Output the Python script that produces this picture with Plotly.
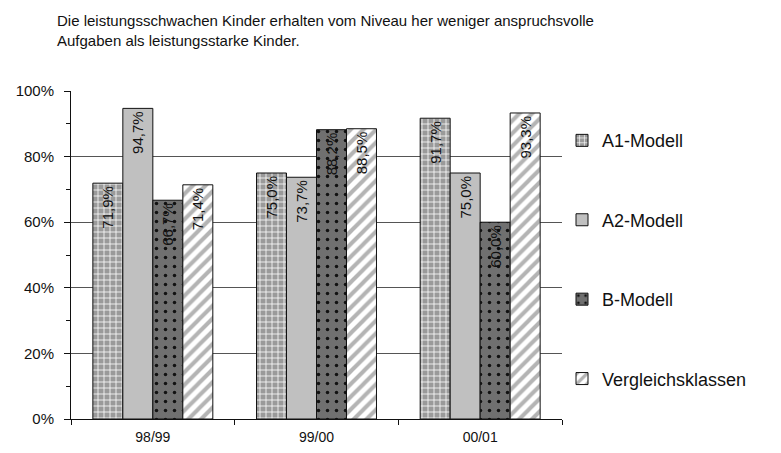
import plotly.graph_objects as go

categories = ["98/99", "99/00", "00/01"]
series_names = ["A1-Modell", "A2-Modell", "B-Modell", "Vergleichsklassen"]
a1_values = [71.9, 75.0, 91.7]
a2_values = [94.7, 73.7, 75.0]
b_values = [66.7, 88.2, 60.0]
vk_values = [71.4, 88.5, 93.3]
y_tick_values = [0, 20, 40, 60, 80, 100]
y_tick_labels = ["0%", "20%", "40%", "60%", "80%", "100%"]
title_text = ("Die leistungsschwachen Kinder erhalten vom Niveau her weniger anspruchsvolle"
              "<br>Aufgaben als leistungsstarke Kinder.")

FONT = "Liberation Sans, Arial, sans-serif"

# the page body has an 8px margin, so the figure is sized/offset to compensate
W, H = 781 - 8, 453 - 8
L, T, R, B = 63, 83, 219, 34
plot_h = H - T - B

styles = [
    dict(color="#9a9a9a", pattern=dict(shape="+", fgcolor="#ffffff", bgcolor="#9a9a9a", size=6, solidity=0.25, fillmode="replace")),
    dict(color="#c0c0c0"),
    dict(color="#707070", pattern=dict(shape=".", fgcolor="#111111", bgcolor="#707070", size=9, solidity=0.12, fillmode="replace")),
    dict(color="#ffffff", pattern=dict(shape="/", fgcolor="#b4b4b4", bgcolor="#ffffff", size=9, solidity=0.45, fillmode="replace")),
]

all_values = [a1_values, a2_values, b_values, vk_values]

fig = go.Figure()
for name, vals, st in zip(series_names, all_values, styles):
    marker = dict(color=st["color"], line=dict(color="#111111", width=1))
    if "pattern" in st:
        marker["pattern"] = st["pattern"]
    fig.add_trace(go.Bar(
        x=categories, y=vals, name=name, marker=marker,
        texttemplate="%{y:.1f}%", textposition="inside", insidetextanchor="end",
        textangle=-90, textfont=dict(family=FONT, size=15, color="#111111"),
        constraintext="none", legendgroup=name, hoverinfo="skip",
    ))

fig.add_annotation(
    text=title_text, showarrow=False, align="left",
    xref="paper", x=-16 / (W - L - R), xanchor="left",
    yref="paper", y=1 + (T - 2) / plot_h, yanchor="top",
    font=dict(family=FONT, size=15, color="#111111"),
)

fig.update_layout(
    width=W, height=H,
    margin=dict(l=L, r=R, t=T, b=B, autoexpand=False),
    paper_bgcolor="white", plot_bgcolor="white",
    separators=",.",
    barmode="group", bargap=0.267, bargroupgap=0,
    font=dict(family=FONT, color="#111111"),
    showlegend=True,
    legend=dict(
        x=1.0, xanchor="left", y=0.905, yanchor="top",
        font=dict(family=FONT, size=18, color="#111111"),
        tracegroupgap=53, traceorder="grouped",
        itemwidth=30, bgcolor="rgba(0,0,0,0)",
    ),
    xaxis=dict(
        showline=True, linecolor="#111111", linewidth=1,
        ticks="outside", ticklen=5, tickcolor="#111111", tickson="boundaries",
        tickfont=dict(family=FONT, size=14, color="#111111"),
        ticklabelstandoff=5,
        showgrid=False,
    ),
    yaxis=dict(
        range=[0, 100], tickvals=y_tick_values, ticktext=y_tick_labels,
        showline=True, linecolor="#111111", linewidth=1,
        ticks="outside", ticklen=6, tickcolor="#111111",
        tickfont=dict(family=FONT, size=15, color="#111111"),
        ticklabelstandoff=7,
        showgrid=True, gridcolor="#555555", gridwidth=1,
        zeroline=False,
        minor=dict(dtick=10, ticks="outside", ticklen=4, tickcolor="#111111", showgrid=False),
    ),
)

fig.write_html("out.html")
